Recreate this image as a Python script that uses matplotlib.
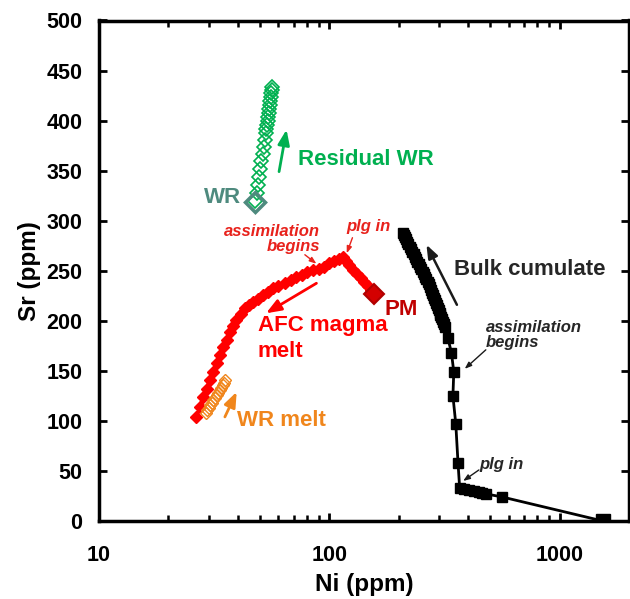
import numpy as np
import matplotlib
matplotlib.use("Agg")
import matplotlib.pyplot as plt
from matplotlib.ticker import LogLocator, FixedLocator, NullFormatter

plt.rcParams["font.family"] = ["Liberation Sans", "DejaVu Sans"]
plt.rcParams["font.weight"] = "bold"

# Bulk cumulate (black squares), from first cumulate to last
bulk_ni = [1540, 563, 481, 462, 445, 425, 405, 385, 368, 362, 354, 344, 347, 339, 327,
           317, 314.5, 312, 309, 306, 303.5, 301, 298, 295, 292.5, 290, 287, 284, 281.5,
           279, 276, 273, 270, 267, 264, 261, 257.5, 254, 250.5, 247, 244, 241, 238,
           235, 232, 229, 226, 223, 220.5, 218, 215.5, 213, 211, 209]
bulk_sr = [0, 24, 27, 28, 29, 30, 31, 32, 33, 58, 97, 125, 149, 168, 183,
           194, 196.5, 199, 201.5, 204, 206, 208, 210.5, 213, 215.5, 218, 220.5, 223, 225.5,
           228, 231, 234, 236.5, 239, 241.5, 244, 246.5, 249, 251.5, 254, 256.5, 259, 261.5,
           264, 266.5, 269, 271.5, 274, 276.5, 279, 281.5, 284, 286, 288]

# AFC magma melt (red diamonds), from parental magma
afc_ni = [157, 152, 147, 142, 137, 132, 127, 122, 118, 115, 110, 105, 100, 95, 90,
          85, 80, 76, 72, 68, 64, 60, 57, 54, 51.6, 49, 46.7, 44.8, 43, 41.2,
          39.5, 38.2, 37, 35.8, 34.6, 33.5, 32.4, 31.3, 30.3, 29.3, 28.3, 27.4, 26.5]
afc_sr = [227, 231, 235, 239, 243, 247, 251, 256, 260, 264, 262, 260, 258, 254, 252,
          251, 249, 246, 244, 241, 238, 235, 232.5, 229, 226, 222, 219, 216, 212.5, 207,
          201, 195, 189, 181, 174, 166, 158, 149, 141, 132, 124, 114, 104]

# Residual wall rock (green open diamonds)
wr_ni = [47.8, 48.3, 48.9, 49.5, 50.1, 50.7, 51.3, 51.9, 52.5, 53.0, 53.3, 53.6, 53.9,
         54.2, 54.5, 54.8, 55.1, 55.4, 55.7, 56.0, 56.3, 56.6]
wr_sr = [320, 328, 336, 344, 352, 360, 367, 374, 381, 388, 392, 396, 400,
         404, 408, 412, 416, 420, 424, 428, 431, 434]

# Wall rock melt (orange open diamonds)
wrm_ni = [29.0, 29.4, 29.9, 30.4, 30.9, 31.4, 31.9, 32.4, 32.9, 33.4, 33.9, 34.4, 34.9, 35.4]
wrm_sr = [108, 110.5, 113, 115.5, 118, 120.5, 123, 125.5, 128, 130.5, 133, 135.5, 138, 140.5]

pm_ni, pm_sr = [157], [227]
wr0_ni, wr0_sr = [47.8], [319]

x_ticks = [10, 100, 1000]
y_ticks = list(range(0, 501, 50))

green = "#00B050"
red = "#FF0000"
dark_red = "#C00000"
orange = "#F0861C"
teal = "#4E8A7E"

fig = plt.figure(figsize=(6.30, 5.99), dpi=100)
ax = fig.add_axes([99 / 630, 78 / 599, 530 / 630, 500.5 / 599])

ax.plot(bulk_ni, bulk_sr, color="black", lw=2, marker="s", ms=7.5, mec="black", mfc="black", zorder=3)
ax.plot(bulk_ni[:1], bulk_sr[:1], ls="none", marker="s", ms=10.5, color="black", zorder=4)

ax.plot(afc_ni, afc_sr, color=red, lw=2.5, marker="D", ms=6, mec=red, mfc=red, zorder=3)
ax.plot(pm_ni, pm_sr, ls="none", marker="D", ms=10.5, mfc="#D40000", mec="#B00000", mew=1.5, zorder=5)

ax.plot(wr_ni, wr_sr, ls="none", marker="D", ms=7, mfc="none", mec=green, mew=1.2, zorder=3)
ax.plot(wr0_ni, wr0_sr, ls="none", marker="D", ms=10, mfc="none", mec=teal, mew=2.5, zorder=4)

ax.plot(wrm_ni, wrm_sr, ls="none", marker="D", ms=6, mfc="none", mec=orange, mew=1.0, zorder=4)

ax.set_xscale("log")
ax.set_xlim(10, 2000)
ax.set_ylim(0, 500)
ax.xaxis.set_major_locator(FixedLocator(x_ticks))
ax.set_xticklabels([str(t) for t in x_ticks])
ax.xaxis.set_minor_locator(LogLocator(base=10, subs=np.arange(2, 10)))
ax.xaxis.set_minor_formatter(NullFormatter())
ax.set_yticks(y_ticks)

ax.tick_params(which="both", direction="in", top=True, right=True, width=2, labelsize=15.5)
ax.tick_params(axis="x", pad=17)
ax.tick_params(axis="y", pad=12)
ax.tick_params(which="major", length=6)
ax.tick_params(which="minor", length=4, width=1.8)
for lab in ax.get_xticklabels() + ax.get_yticklabels():
    lab.set_fontweight("bold")
for s in ax.spines.values():
    s.set_linewidth(2.5)

ax.set_xlabel("Ni (ppm)", fontsize=17.5, fontweight="bold", labelpad=5)
ax.set_ylabel("Sr (ppm)", fontsize=17.5, fontweight="bold", labelpad=4)

big = dict(fontsize=16, fontweight="bold", va="center")
small = dict(fontsize=12, fontweight="bold", style="italic", va="center", linespacing=1.0)

ax.text(72.9, 361, "Residual WR", color=green, ha="left", **big)
ax.text(41.3, 323, "WR", color=teal, ha="right", **big)
ax.text(174, 211, "PM", color=dark_red, ha="left", **big)
ax.text(49, 182, "AFC magma\nmelt", color=red, ha="left", linespacing=1.3, **big)
ax.text(39.7, 100, "WR melt", color=orange, ha="left", **big)
ax.text(347, 251, "Bulk cumulate", color="#262626", ha="left", **big)

ax.text(91, 282, "assimilation\nbegins", color="#E8221C", ha="right", multialignment="right", **small)
ax.text(118, 294, "plg in", color="#E8221C", ha="left", **small)
ax.text(477, 186, "assimilation\nbegins", color="#262626", ha="left", **small)
ax.text(446, 56, "plg in", color="#262626", ha="left", **small)

def arrow(tail, head, color, lw, hw, hl):
    ax.annotate("", xy=head, xytext=tail,
                arrowprops=dict(arrowstyle=f"-|>,head_width={hw},head_length={hl}",
                                color=color, lw=lw, shrinkA=0, shrinkB=0))

arrow((60.5, 349), (65.2, 391), green, 2, 0.35, 0.9)
arrow((87.9, 237.5), (53.1, 207.5), red, 2, 0.35, 0.9)
arrow((35.2, 104), (39.6, 129), orange, 2, 0.35, 0.9)
arrow((358, 216), (264, 276), "#1a1a1a", 1.8, 0.3, 0.8)
arrow((78.3, 266), (87.9, 257), "#E8221C", 1, 0.15, 0.4)
arrow((126, 283), (119, 267.5), "#E8221C", 1, 0.15, 0.4)
arrow((478, 171), (387, 152), "#1a1a1a", 1, 0.15, 0.4)
arrow((446, 51), (381, 40), "#1a1a1a", 1, 0.15, 0.4)

fig.savefig("out.png", dpi=100)
